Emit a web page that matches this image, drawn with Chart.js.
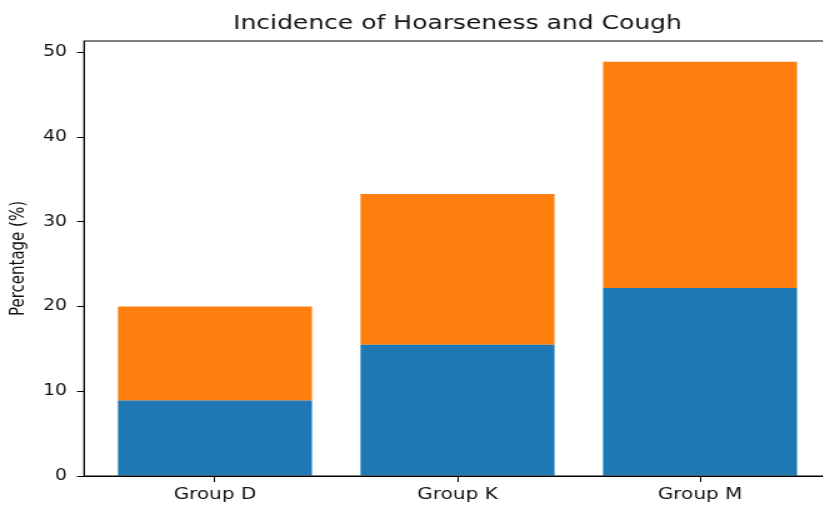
<!DOCTYPE html>
<html>
<head>
<meta charset="utf-8">
<title>Incidence of Hoarseness and Cough</title>
<script src="https://cdn.jsdelivr.net/npm/chart.js@4.4.1/dist/chart.umd.min.js"></script>
<style>
  html, body { margin: 0; padding: 0; background: #fff; overflow: hidden; }
  /* the reference picture is stretched sideways, so the chart is too */
  #wrap { width: 680px; height: 506px; transform: scaleX(1.25); transform-origin: 0 0; }
</style>
</head>
<body>
<div id="wrap"><canvas id="chart" width="680" height="506"></canvas></div>
<script>
// data
const categories = ['Group D', 'Group K', 'Group M'];
const hoarseness = [8.9, 15.5, 22.2];
const cough = [11.1, 17.8, 26.7];
const yTicks = [0, 10, 20, 30, 40, 50];

const FONT = 'DejaVu Sans';
const TEXT = '#111';

// matplotlib style box round the plot area
const frame = {
    id: 'frame',
    afterDraw(chart) {
        const {ctx, chartArea: a} = chart;
        ctx.save();
        ctx.strokeStyle = '#000';
        ctx.lineWidth = 1;
        ctx.strokeRect(a.left, a.top, a.right - a.left, a.bottom - a.top);
        ctx.restore();
    }
};

const toPoints = (vals) => categories.map((c, i) => ({x: i, y: vals[i]}));

new Chart(document.getElementById('chart'), {
    type: 'bar',
    data: {
        datasets: [{
            label: 'Hoarseness',
            data: toPoints(hoarseness),
            backgroundColor: '#1f77b4'
        }, {
            label: 'Cough',
            data: toPoints(cough),
            backgroundColor: '#ff7f0e'
        }]
    },
    options: {
        responsive: false,
        animation: false,
        devicePixelRatio: 1,
        barPercentage: 0.8,
        categoryPercentage: 1.0,
        layout: { padding: { left: 0, right: 15.2, top: 0, bottom: 0 } },
        plugins: {
            legend: { display: false },
            tooltip: { enabled: false },
            title: {
                display: true,
                text: 'Incidence of Hoarseness and Cough',
                fullSize: false,
                color: TEXT,
                font: { family: FONT, size: 20, weight: 'normal' },
                padding: { top: 12, bottom: 5 }
            }
        },
        scales: {
            x: {
                type: 'linear',
                stacked: true,
                offset: false,
                min: -0.54,
                max: 2.54,
                afterFit: (s) => { s.height = 30; },
                afterBuildTicks: (s) => { s.ticks = categories.map((c, i) => ({value: i})); },
                ticks: {
                    callback: (v) => categories[v],
                    color: TEXT,
                    font: { family: FONT, size: 16 },
                    padding: 3,
                    maxRotation: 0,
                    autoSkip: false
                },
                grid: { offset: false, drawOnChartArea: false, drawTicks: true, tickLength: 6, tickColor: '#000' },
                border: { display: true, color: '#000', width: 1 }
            },
            y: {
                stacked: true,
                min: 0,
                max: 51.35,
                afterFit: (s) => { s.width = 67.2; },
                afterBuildTicks: (s) => { s.ticks = yTicks.map((v) => ({value: v})); },
                ticks: {
                    color: TEXT,
                    font: { family: FONT, size: 15 },
                    padding: 8
                },
                title: {
                    display: true,
                    text: 'Percentage (%)',
                    color: TEXT,
                    font: { family: FONT, size: 15 },
                    padding: { top: 6.5, bottom: 0 }
                },
                grid: { drawOnChartArea: false, drawTicks: true, tickLength: 5.6, tickColor: '#000' },
                border: { display: true, color: '#000', width: 1 }
            }
        }
    },
    plugins: [frame]
});
</script>
</body>
</html>
